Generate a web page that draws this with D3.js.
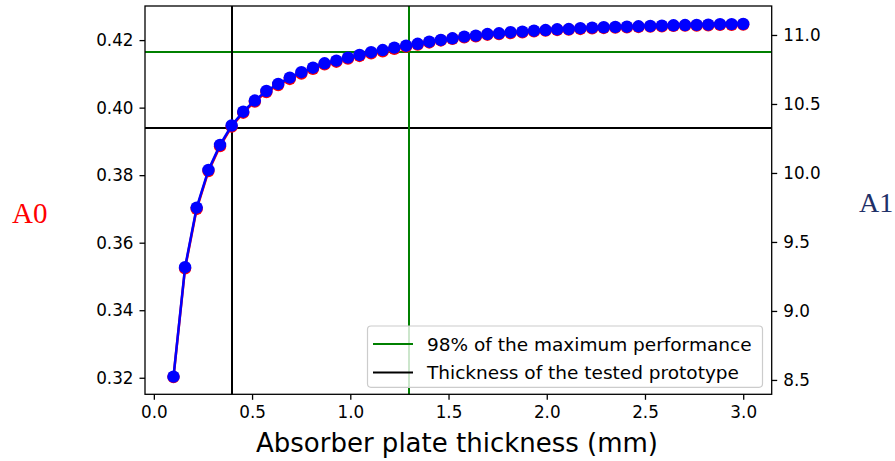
<!DOCTYPE html>
<meta charset="utf-8"/>
<title>Absorber plate thickness</title>
<script src="https://cdn.jsdelivr.net/npm/d3@7"></script>
<style>
  body { margin: 0; background: #fff; }
  svg text { font-family: 'DejaVu Sans', sans-serif; fill: #000; }
  .axis path, .axis line { stroke: #000; stroke-width: 1.3px; }
  .axis text { font-size: 16.8px; }
</style>
<svg width=895 height=461></svg>
<script>
  // thickness in mm (50 samples)
  const thickness = [0.100, 0.159, 0.218, 0.278, 0.337, 0.396, 0.455, 0.514, 0.573, 0.633,
    0.692, 0.751, 0.810, 0.869, 0.929, 0.988, 1.047, 1.106, 1.165, 1.224,
    1.284, 1.343, 1.402, 1.461, 1.520, 1.580, 1.639, 1.698, 1.757, 1.816,
    1.876, 1.935, 1.994, 2.053, 2.112, 2.171, 2.231, 2.290, 2.349, 2.408,
    2.467, 2.527, 2.586, 2.645, 2.704, 2.763, 2.822, 2.882, 2.941, 3.000];
  // left axis series (red)
  const a0 = [0.3202, 0.3524, 0.3700, 0.3812, 0.3886, 0.3944, 0.3985, 0.4018, 0.4046, 0.4067,
    0.4085, 0.4101, 0.4115, 0.4128, 0.4136, 0.4145, 0.4153, 0.4161, 0.4167, 0.4174,
    0.4181, 0.4187, 0.4193, 0.4199, 0.4204, 0.4208, 0.4211, 0.4216, 0.4218, 0.4221,
    0.4223, 0.4226, 0.4228, 0.4230, 0.4231, 0.4233, 0.4235, 0.4236, 0.4237, 0.4238,
    0.4239, 0.4240, 0.4241, 0.4242, 0.4243, 0.4243, 0.4244, 0.4245, 0.4245, 0.4246];
  // right axis series (blue)
  const a1 = [8.524, 9.317, 9.749, 10.022, 10.203, 10.344, 10.444, 10.525, 10.594, 10.645,
    10.691, 10.730, 10.763, 10.795, 10.814, 10.836, 10.855, 10.875, 10.891, 10.908,
    10.922, 10.936, 10.951, 10.964, 10.976, 10.988, 10.995, 11.007, 11.012, 11.020,
    11.024, 11.031, 11.036, 11.041, 11.043, 11.049, 11.053, 11.056, 11.058, 11.060,
    11.063, 11.065, 11.067, 11.070, 11.072, 11.073, 11.075, 11.078, 11.079, 11.080];

  const xTicks = [0.0, 0.5, 1.0, 1.5, 2.0, 2.5, 3.0];
  const leftTicks = [0.32, 0.34, 0.36, 0.38, 0.40, 0.42];
  const rightTicks = [8.5, 9.0, 9.5, 10.0, 10.5, 11.0];

  const refX = [0.4, 1.3];          // tested prototype, 98% point
  const refY = [0.3940, 0.4164];    // on left axis
  const legendLabels = ['98% of the maximum performance', 'Thickness of the tested prototype'];

  const L = 145, R = 771.7, T = 6, B = 394.3;

  const svg = d3.select('svg');

  const x = d3.scaleLinear().domain([-0.045, 3.145]).range([L, R]);
  const yL = d3.scaleLinear().domain([0.3151, 0.4301]).range([B, T]);
  const yR = d3.scaleLinear().domain([8.396, 11.21]).range([B, T]);

  // reference lines, snapped to whole pixels so the 2px stroke stays crisp
  function hline(v, color) {
    const yy = Math.round(yL(v));
    svg.append('line').attr('x1', L).attr('x2', R).attr('y1', yy).attr('y2', yy)
      .style('stroke', color).style('stroke-width', 2);
  }
  function vline(v, color) {
    const xx = Math.round(x(v));
    svg.append('line').attr('y1', T).attr('y2', B).attr('x1', xx).attr('x2', xx)
      .style('stroke', color).style('stroke-width', 2);
  }
  hline(refY[1], 'green');
  hline(refY[0], '#000');
  vline(refX[0], '#000');
  vline(refX[1], 'green');

  function series(vals, y, color) {
    const pts = thickness.map(function (t, i) { return [t, vals[i]]; });
    svg.append('path')
      .datum(pts)
      .attr('d', d3.line().x(function (d) { return x(d[0]); }).y(function (d) { return y(d[1]); }))
      .style('fill', 'none').style('stroke', color).style('stroke-width', 2.5);
    svg.append('g').selectAll('circle')
      .data(pts).enter()
      .append('circle')
      .attr('cx', function (d) { return x(d[0]); })
      .attr('cy', function (d) { return y(d[1]); })
      .attr('r', 6.2)
      .style('fill', color);
  }
  series(a0, yL, '#ff0000');
  series(a1, yR, '#0000ff');

  // spines
  svg.append('rect').attr('x', L).attr('y', T).attr('width', R - L).attr('height', B - T)
    .style('fill', 'none').style('stroke', '#000').style('stroke-width', 1.3);

  svg.append('g').attr('class', 'axis').attr('transform', 'translate(0,' + B + ')')
    .call(d3.axisBottom(x).tickValues(xTicks).tickFormat(d3.format('.1f')).tickSize(5.5).tickPadding(6))
    .call(function (g) { g.select('.domain').remove(); });
  svg.append('g').attr('class', 'axis').attr('transform', 'translate(' + L + ',0)')
    .call(d3.axisLeft(yL).tickValues(leftTicks).tickFormat(d3.format('.2f')).tickSize(5.5).tickPadding(6))
    .call(function (g) { g.select('.domain').remove(); });
  svg.append('g').attr('class', 'axis').attr('transform', 'translate(' + R + ',0)')
    .call(d3.axisRight(yR).tickValues(rightTicks).tickFormat(d3.format('.1f')).tickSize(5.5).tickPadding(6))
    .call(function (g) { g.select('.domain').remove(); });
  svg.selectAll('.axis text').attr('fill', '#000').style('font-family', "'DejaVu Sans', sans-serif");

  svg.append('text').attr('x', 457).attr('y', 452)
    .attr('text-anchor', 'middle').style('font-size', '26px')
    .text('Absorber plate thickness (mm)');

  svg.append('text').attr('x', 12).attr('y', 222.5)
    .style('font-family', "'Liberation Serif', serif").style('font-size', '29px').style('fill', '#ff0000')
    .text('A0');
  svg.append('text').attr('x', 859).attr('y', 212)
    .style('font-family', "'Liberation Serif', serif").style('font-size', '28px').style('fill', '#1f3068')
    .text('A1');

  // legend
  const lg = svg.append('g');
  lg.append('rect').attr('x', 367.5).attr('y', 326).attr('width', 395).attr('height', 61.3)
    .attr('rx', 3.5)
    .style('fill', 'rgba(255,255,255,0.8)').style('stroke', '#cccccc').style('stroke-width', 1.2);
  const rows = [344, 372.5];
  const rowColors = ['green', '#000'];
  legendLabels.forEach(function (lab, i) {
    lg.append('line').attr('x1', 373).attr('x2', 413).attr('y1', rows[i]).attr('y2', rows[i])
      .style('stroke', rowColors[i]).style('stroke-width', 2.2);
    lg.append('text').attr('x', 427).attr('y', rows[i]).attr('dy', '0.36em')
      .style('font-size', '18.5px').text(lab);
  });
</script>
